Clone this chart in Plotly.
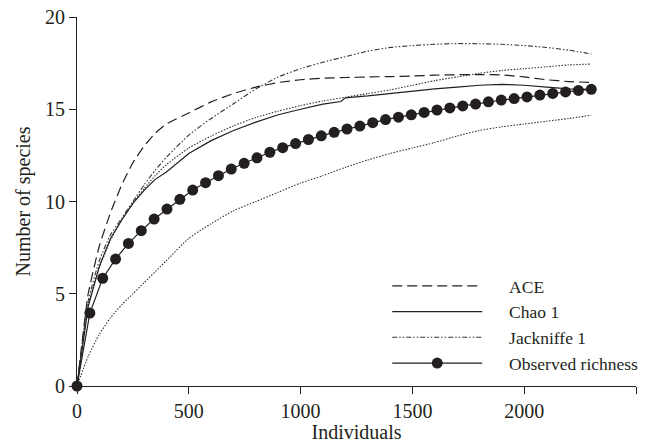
import plotly.graph_objects as go

# ---------------- data ----------------
obs_x = [i * 57.5 for i in range(41)]
obs_y = [0, 3.95, 5.84, 6.88, 7.73, 8.42, 9.05, 9.59, 10.12, 10.62, 11.02,
         11.40, 11.76, 12.07, 12.37, 12.67, 12.92, 13.14, 13.36, 13.56, 13.75,
         13.93, 14.09, 14.27, 14.44, 14.57, 14.70, 14.83, 14.96, 15.07, 15.18,
         15.28, 15.40, 15.50, 15.58, 15.67, 15.77, 15.86, 15.94, 16.02, 16.08]

est_x = [0, 50, 100, 150, 200, 250, 300, 350, 400, 500, 600, 700, 800, 900,
         1000, 1100, 1200, 1300, 1400, 1500, 1600, 1700, 1800, 1900, 2000,
         2100, 2200, 2300]

ace_y = [0, 5.0, 7.6, 9.4, 10.9, 12.1, 13.0, 13.7, 14.2, 14.8, 15.4, 15.85,
         16.2, 16.45, 16.6, 16.68, 16.72, 16.75, 16.77, 16.8, 16.85, 16.87,
         16.88, 16.86, 16.75, 16.6, 16.5, 16.45]

jack_y = [0, 4.6, 6.8, 8.2, 9.1, 10.0, 10.9, 11.7, 12.4, 13.6, 14.5, 15.3,
          16.1, 16.75, 17.2, 17.55, 17.85, 18.15, 18.35, 18.45, 18.52, 18.56,
          18.55, 18.52, 18.45, 18.35, 18.2, 18.0]

upper_y = [0, 4.4, 6.4, 7.9, 9.0, 9.9, 10.7, 11.4, 12.0, 12.9, 13.55, 14.1,
           14.55, 14.9, 15.2, 15.45, 15.65, 15.85, 16.05, 16.3, 16.55, 16.75,
           16.95, 17.1, 17.2, 17.3, 17.4, 17.45]

lower_y = [0, 1.6, 2.8, 3.7, 4.4, 5.0, 5.6, 6.2, 6.8, 8.0, 8.8, 9.5, 10.0,
           10.5, 11.0, 11.4, 11.85, 12.25, 12.6, 12.9, 13.2, 13.55, 13.85,
           14.05, 14.2, 14.35, 14.5, 14.68]

chao_x = [0, 50, 100, 150, 200, 250, 300, 350, 400, 500, 600, 700, 800, 900,
          1000, 1100, 1180, 1200, 1300, 1400, 1500, 1600, 1700, 1800, 1900,
          2000, 2100, 2200, 2300]
chao_y = [0, 4.3, 6.5, 8.0, 9.0, 9.9, 10.6, 11.2, 11.6, 12.6, 13.3, 13.85,
          14.3, 14.7, 15.0, 15.28, 15.42, 15.62, 15.72, 15.85, 16.0, 16.1,
          16.2, 16.3, 16.35, 16.3, 16.2, 16.1, 16.08]

series_names = ["ACE", "Chao 1", "Jackniffe 1", "Observed richness"]
x_ticks = [0, 500, 1000, 1500, 2000, 2500]
y_ticks = [0, 5, 10, 15, 20]

INK = "#231f20"
FONT = "Liberation Serif, 'Times New Roman', Times, serif"
PAD = "\u00a0" * 5  # gap between legend sample and label

fig = go.Figure()

# dotted bounding curves (no legend)
for ys in (upper_y, lower_y):
    fig.add_trace(go.Scatter(x=est_x, y=ys, mode="lines", showlegend=False,
                             line=dict(color="#333333", width=1.1, dash="1.5px,1.5px",
                                       shape="spline", smoothing=0.6),
                             hoverinfo="skip"))

fig.add_trace(go.Scatter(x=est_x, y=ace_y, mode="lines", name=PAD + series_names[0],
                         line=dict(color=INK, width=1.2, dash="10px,5px", shape="spline", smoothing=0.4)))
fig.add_trace(go.Scatter(x=chao_x, y=chao_y, mode="lines", name=PAD + series_names[1],
                         line=dict(color=INK, width=1.2)))
fig.add_trace(go.Scatter(x=est_x, y=jack_y, mode="lines", name=PAD + series_names[2],
                         line=dict(color="#333333", width=1.1, dash="5px,2px,1.5px,2px,1.5px,2px",
                                   shape="spline", smoothing=0.5)))
fig.add_trace(go.Scatter(x=obs_x, y=obs_y, mode="lines+markers", name=PAD + series_names[3],
                         line=dict(color=INK, width=1.2),
                         marker=dict(symbol="circle", size=11, color=INK),
                         cliponaxis=False))

fig.update_layout(
    width=654, height=443,
    margin=dict(l=77, r=18, t=17, b=57, autoexpand=False),
    paper_bgcolor="white", plot_bgcolor="white",
    font=dict(family=FONT, size=20, color=INK),
    showlegend=True,
    legend=dict(x=0.555, y=0.32, xanchor="left", yanchor="top",
                font=dict(family=FONT, size=17.5, color=INK),
                bgcolor="rgba(0,0,0,0)", itemwidth=90, tracegroupgap=0),
)
fig.update_xaxes(range=[0, 2500], tickvals=x_ticks, ticktext=[str(v) for v in x_ticks],
                 showgrid=False, zeroline=False, showline=True, linecolor=INK, linewidth=1.2,
                 ticks="outside", ticklen=7, tickcolor=INK, tickwidth=1.2,
                 tickfont=dict(family=FONT, size=20, color=INK),
                 title=dict(text="Individuals", font=dict(family=FONT, size=20, color=INK), standoff=6))
fig.update_yaxes(range=[0, 20], tickvals=y_ticks, ticktext=[str(v) for v in y_ticks],
                 showgrid=False, zeroline=False, showline=True, linecolor=INK, linewidth=1.2,
                 ticks="outside", ticklen=7, tickcolor=INK, tickwidth=1.2,
                 tickfont=dict(family=FONT, size=20, color=INK),
                 title=dict(text="Number of species", font=dict(family=FONT, size=20, color=INK), standoff=8))

fig.write_html("out.html", config={"displayModeBar": False},
               post_script="document.body.style.margin='0';")
